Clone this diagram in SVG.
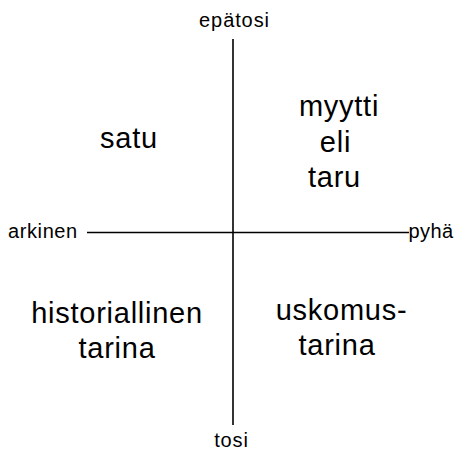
<svg xmlns="http://www.w3.org/2000/svg" width="455" height="452" viewBox="0 0 455 452">
<style>
text{font-family:"Liberation Sans",Arial,sans-serif;fill:#000;text-anchor:middle}
.s{font-size:20px;letter-spacing:0.9px}
.b{font-size:29px;letter-spacing:0.75px}
.ax{stroke:#000;stroke-width:1.6;fill:none}
</style>
<rect width="455" height="452" fill="#fff"/>
<g id="connectors">
<line class="ax" x1="233" y1="39" x2="233" y2="425"/>
<line class="ax" x1="87" y1="232.5" x2="409" y2="232.5"/>
</g>
<g id="epatosi"><text class="s" x="234.5" y="26.5">epätosi</text></g>
<g id="tosi"><text class="s" x="231.5" y="447">tosi</text></g>
<g id="arkinen"><text class="s" x="8" y="238" style="text-anchor:start;letter-spacing:0.6px">arkinen</text></g>
<g id="pyha"><text class="s" x="408.5" y="238" style="text-anchor:start;letter-spacing:0.4px">pyhä</text></g>
<g id="satu"><text class="b" x="129" y="148">satu</text></g>
<g id="myytti"><text class="b" x="339" y="116">myytti</text><text class="b" x="335.5" y="152">eli</text><text class="b" x="334.5" y="187">taru</text></g>
<g id="historiallinen"><text class="b" x="117" y="323">historiallinen</text><text class="b" x="117" y="358">tarina</text></g>
<g id="uskomus"><text class="b" x="341.5" y="320">uskomus-</text><text class="b" x="337" y="355">tarina</text></g>
</svg>
